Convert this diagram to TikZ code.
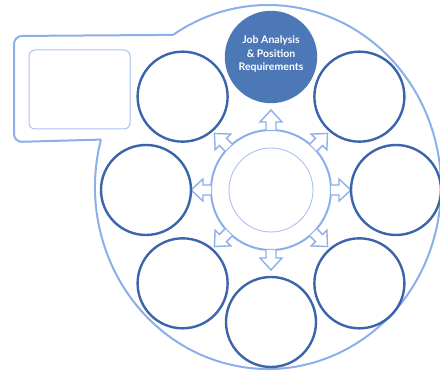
\documentclass[tikz,border=0pt]{standalone}
\usepackage{fontspec}
\setsansfont{Lato}
\usetikzlibrary{calc}
\definecolor{jobdark}{HTML}{3B64AA}
\definecolor{jobfill}{HTML}{4C78B8}
\definecolor{joblight}{HTML}{8CAEEA}
\definecolor{jobpale}{HTML}{A9C2F0}
\begin{document}
\begin{tikzpicture}[x=1pt, y=1pt, font=\sffamily,
  sat/.style={circle, draw=jobdark, line width=2.4pt, minimum size=90pt, inner sep=0pt},
  hub/.style={circle, draw=joblight, line width=2pt, minimum size=120pt, inner sep=0pt},
  outline/.style={draw=joblight, line width=2pt},
  blockarrow/.style={draw=joblight, fill=white, line width=1.4pt, line join=miter},
  lbl/.style={text=white, align=center, font=\sffamily\bfseries\fontsize{10.5}{13.5}\selectfont}]
  \useasboundingbox (0,0) rectangle (440,374);
  % ---------- outer frame ----------
  \coordinate (o) at (268,187);
  \coordinate (t1) at ($(o)+(123.3:173 and 182)$);
  \coordinate (t2) at ($(o)+(164.9:173 and 182)$);
  \draw[outline, rounded corners=8pt] (t1) -- (14,338) -- (14,232) -- (t2);
  \draw[outline] (t2) arc[start angle=164.9, end angle=483.3, x radius=173, y radius=182];
  \draw[draw=jobpale, line width=1pt, rounded corners=6pt] (29,245) rectangle (130,324);
  % ---------- hub ----------
  \node[hub] (hub) at (271,184) {};
  \node[circle, draw=jobpale, line width=0.9pt, minimum size=84pt, inner sep=0pt] (core) at (hub) {};
  \foreach \a in {0,45,...,315}
    \draw[blockarrow, shift={(hub)}, rotate=\a] (60,-5) -- (68,-5) -- (68,-11) -- (80,0) -- (68,11) -- (68,5) -- (60,5);
  % ---------- satellites ----------
  \node[sat, fill=jobfill, draw=jobfill] (top) at ($(hub)+(90:125 and 133)$) {};
  \node[lbl] at ($(top)+(0,3)$) {Job Analysis\\\& Position\\Requirements};
  \foreach \a/\n in {45/ne, 0/e, -45/se, -90/s, -135/sw, 180/w, 135/nw}
    \node[sat] (\n) at ($(hub)+(\a:125 and 132)$) {};
\end{tikzpicture}
\end{document}
